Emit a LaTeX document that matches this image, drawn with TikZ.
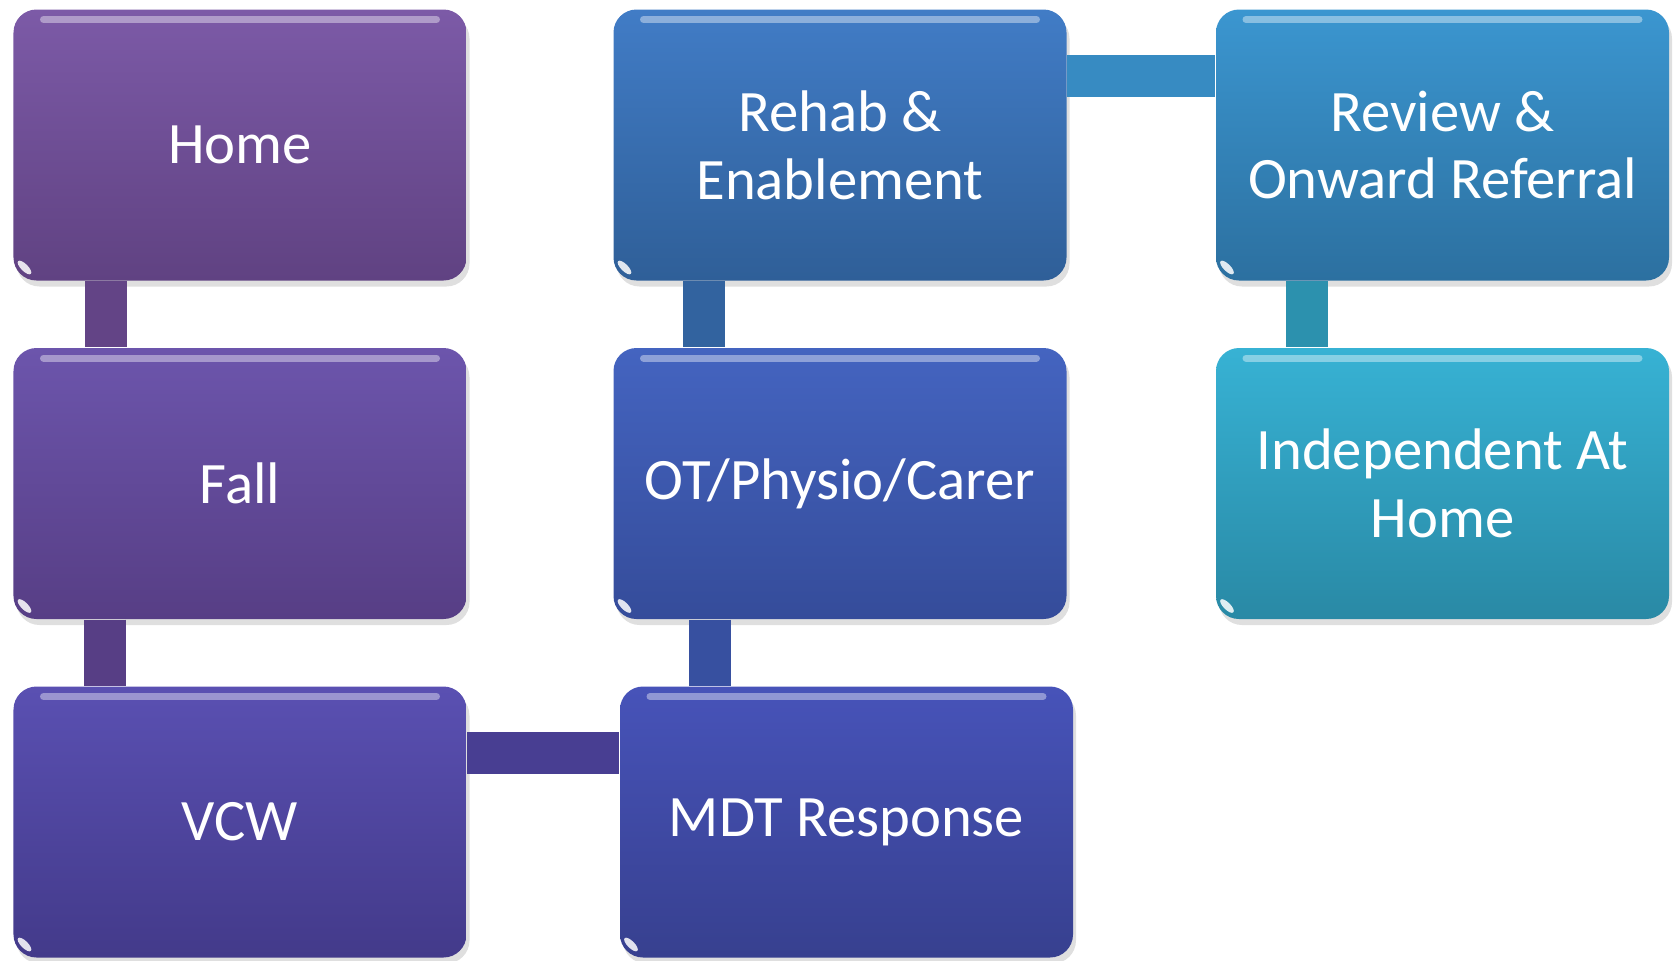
\documentclass[tikz,border=0pt]{standalone}
\usepackage{fontspec}
\setmainfont{Carlito}
\usetikzlibrary{shadows}
\definecolor{homeT}{HTML}{7C5AA7}
\definecolor{homeB}{HTML}{604282}
\definecolor{fallT}{HTML}{6C55AC}
\definecolor{fallB}{HTML}{573E85}
\definecolor{vcwT}{HTML}{5A50B2}
\definecolor{vcwB}{HTML}{433A8A}
\definecolor{rehabT}{HTML}{417CC6}
\definecolor{rehabB}{HTML}{2F5F98}
\definecolor{otT}{HTML}{4464C0}
\definecolor{otB}{HTML}{354C9A}
\definecolor{mdtT}{HTML}{4753B9}
\definecolor{mdtB}{HTML}{37408F}
\definecolor{revT}{HTML}{3B96D0}
\definecolor{revB}{HTML}{2C70A0}
\definecolor{indT}{HTML}{37B2D4}
\definecolor{indB}{HTML}{2989A5}
\begin{document}
\begin{tikzpicture}[
  box/.style={rounded corners=0.23cm, minimum width=4.53cm, minimum height=2.71cm,
    align=center, text=white, font=\fontsize{16.7}{19.3}\selectfont,
    drop shadow={opacity=0.25, shadow xshift=0.03cm, shadow yshift=-0.06cm},
    path picture={
      \draw[white, opacity=0.4, line width=0.07cm, line cap=round]
        ([xshift=0.3cm,yshift=-0.1cm]path picture bounding box.north west) --
        ([xshift=-0.3cm,yshift=-0.1cm]path picture bounding box.north east);
      \fill[white, opacity=0.85]
        ([xshift=0.11cm,yshift=0.13cm]path picture bounding box.south west)
        ellipse [x radius=0.09cm, y radius=0.035cm, rotate=-45];
    }},
  link/.style={line width=0.42cm}
]
\useasboundingbox (0,0) rectangle (16.73,-9.60);
\node[box, top color=homeT, bottom color=homeB] (home) at (2.40,-1.45) {Home};
\node[box, top color=fallT, bottom color=fallB] (fall) at (2.40,-4.835) {Fall};
\node[box, top color=vcwT, bottom color=vcwB] (vcw) at (2.40,-8.22) {VCW};
\node[box, top color=mdtT, bottom color=mdtB] (mdt) at (8.465,-8.22) {MDT Response};
\node[box, top color=otT, bottom color=otB] (ot) at (8.40,-4.835) {OT/Physio/Carer};
\node[box, top color=rehabT, bottom color=rehabB] (rehab) at (8.40,-1.45) {Rehab \&\\Enablement};
\node[box, top color=revT, bottom color=revB] (review) at (14.425,-1.45) {Review \&\\Onward Referral};
\node[box, top color=indT, bottom color=indB] (indep) at (14.425,-4.835) {Independent At\\Home};
% links
\draw[link, color=homeB!90!homeT] ([xshift=0.93cm]home.south west) -- ([xshift=0.93cm]fall.north west);
\draw[link, color=fallB] ([xshift=0.92cm]fall.south west) -- ([xshift=0.92cm]vcw.north west);
\draw[link, color=vcwB!80!vcwT] ([yshift=-0.67cm]vcw.north east) -- ([yshift=-0.67cm]vcw.north east -| mdt.west);
\draw[link, color=otB!85!otT] ([xshift=0.97cm]ot.south west) -- ([xshift=0.97cm]ot.south west |- mdt.north);
\draw[link, color=rehabB!85!rehabT] ([xshift=0.915cm]rehab.south west) -- ([xshift=0.915cm]ot.north west);
\draw[link, color=revT!70!revB] ([yshift=-0.67cm]rehab.north east) -- ([yshift=-0.67cm]rehab.north east -| review.west);
\draw[link, color=indB!80!indT] ([xshift=0.92cm]review.south west) -- ([xshift=0.92cm]indep.north west);
\end{tikzpicture}
\end{document}
